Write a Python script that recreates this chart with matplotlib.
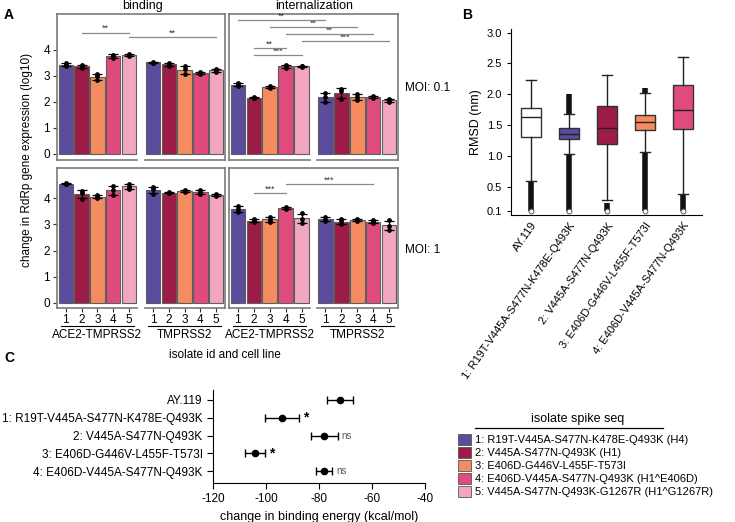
import matplotlib
matplotlib.use('Agg')
import matplotlib.pyplot as plt
import numpy as np
from matplotlib.patches import Patch
from matplotlib.lines import Line2D

plt.rcParams['font.family'] = ['Liberation Sans', 'DejaVu Sans']
plt.rcParams['axes.unicode_minus'] = False

W, H = 735, 522

# ---- panel A data: log10 change in RdRp expression, 3 replicates per isolate ----
isolates = ['1', '2', '3', '4', '5']
cell_lines = ['ACE2-TMPRSS2', 'TMPRSS2']
assays = ['binding', 'internalization']
mois = ['MOI: 0.1', 'MOI: 1']
colors = ['#5B4C9E', '#9C1C47', '#F48C5F', '#E04B7D', '#F2A6C2']

moi01_binding_ace2 = [[3.35, 3.45, 3.47], [3.28, 3.35, 3.42], [2.85, 2.97, 3.08], [3.68, 3.77, 3.80], [3.76, 3.80, 3.84]]
moi01_binding_tmp = [[3.48, 3.50, 3.54], [3.38, 3.42, 3.50], [3.05, 3.25, 3.36], [3.07, 3.12, 3.14], [3.14, 3.20, 3.26]]
moi01_intern_ace2 = [[2.60, 2.65, 2.72], [2.14, 2.16, 2.18], [2.53, 2.57, 2.61], [3.30, 3.36, 3.42], [3.34, 3.36, 3.38]]
moi01_intern_tmp = [[1.98, 2.20, 2.33], [2.12, 2.42, 2.47], [2.08, 2.20, 2.30], [2.15, 2.19, 2.23], [1.98, 2.05, 2.12]]
moi1_binding_ace2 = [[4.53, 4.55, 4.57], [3.98, 4.20, 4.27], [4.00, 4.06, 4.12], [4.12, 4.30, 4.48], [4.35, 4.45, 4.56]]
moi1_binding_tmp = [[4.18, 4.35, 4.43], [4.20, 4.22, 4.24], [4.23, 4.28, 4.33], [4.18, 4.25, 4.30], [4.10, 4.13, 4.16]]
moi1_intern_ace2 = [[3.48, 3.58, 3.71], [3.08, 3.14, 3.20], [3.10, 3.18, 3.29], [3.59, 3.62, 3.65], [3.05, 3.22, 3.42]]
moi1_intern_tmp = [[3.12, 3.18, 3.27], [3.02, 3.12, 3.19], [3.13, 3.16, 3.19], [3.05, 3.12, 3.16], [2.80, 2.93, 3.15]]

panel_a = {
    (0, 0): [moi01_binding_ace2, moi01_binding_tmp],
    (0, 1): [moi01_intern_ace2, moi01_intern_tmp],
    (1, 0): [moi1_binding_ace2, moi1_binding_tmp],
    (1, 1): [moi1_intern_ace2, moi1_intern_tmp],
}

# significance: (row, col, (cell line, isolate), (cell line, isolate), height, label)
sig_marks = [
    (0, 0, (0, 1), (0, 4), 4.65, '**'),
    (0, 0, (0, 4), (1, 4), 4.47, '**'),
    (0, 1, (0, 0), (1, 0), 5.13, '**'),
    (0, 1, (0, 2), (1, 2), 4.87, '**'),
    (0, 1, (0, 3), (1, 3), 4.60, '**'),
    (0, 1, (0, 4), (1, 4), 4.33, '***'),
    (0, 1, (0, 1), (0, 3), 4.05, '**'),
    (0, 1, (0, 1), (0, 4), 3.78, '***'),
    (1, 1, (0, 1), (0, 3), 4.19, '***'),
    (1, 1, (0, 3), (1, 3), 4.55, '***'),
]

# ---- panel B data: RMSD box stats ----
rmsd_labels = ['AY.119', '1: R19T-V445A-S477N-K478E-Q493K', '2: V445A-S477N-Q493K',
               '3: E406D-G446V-L455F-T573I', '4: E406D-V445A-S477N-Q493K']
rmsd_colors = ['white', '#5B4C9E', '#9C1C47', '#F48C5F', '#E04B7D']
rmsd_med = [1.63, 1.36, 1.46, 1.55, 1.75]
rmsd_q1 = [1.31, 1.27, 1.20, 1.42, 1.44]
rmsd_q3 = [1.78, 1.45, 1.81, 1.66, 2.15]
rmsd_whislo = [0.60, 1.03, 0.28, 1.06, 0.38]
rmsd_whishi = [2.24, 1.68, 2.32, 2.02, 2.60]
rmsd_out_lo = [(0.1, 0.60), (0.1, 1.03), (0.1, 0.24), (0.1, 1.06), (0.1, 0.38)]
rmsd_out_hi = [None, (1.68, 2.0), None, (2.02, 2.1), None]

# ---- panel C data: binding energy ----
c_labels = ['AY.119', '1: R19T-V445A-S477N-K478E-Q493K', '2: V445A-S477N-Q493K',
            '3: E406D-G446V-L455F-T573I', '4: E406D-V445A-S477N-Q493K']
c_mean = [-72, -94, -78, -104, -78]
c_err = [5, 6.5, 5, 3.8, 3]
c_sig = ['', '*', 'ns', '*', 'ns']

legend_labels = ['1: R19T-V445A-S477N-K478E-Q493K (H4)', '2: V445A-S477N-Q493K (H1)',
                 '3: E406D-G446V-L455F-T573I', '4: E406D-V445A-S477N-Q493K (H1^E406D)',
                 '5: V445A-S477N-Q493K-G1267R (H1^G1267R)']

fig = plt.figure(figsize=(W / 100, H / 100), dpi=100)


def add_ax(x0, y0, x1, y1):
    return fig.add_axes([x0 / W, 1 - y1 / H, (x1 - x0) / W, (y1 - y0) / H])


def ftext(x, y, s, **kw):
    fig.text(x / W, 1 - y / H, s, **kw)


# ---------------- panel A ----------------
frame_col = '#7a7a7a'
rows_px = [(14, 160), (168, 308)]
cols_px = [(57, 225), (229, 398)]
ylims = [(-0.23, 5.36), (-0.2, 5.16)]

for r in range(2):
    for c in range(2):
        ax = add_ax(cols_px[c][0], rows_px[r][0], cols_px[c][1], rows_px[r][1])
        all_pos = []
        for cl in range(2):
            reps = np.array(panel_a[(r, c)][cl])
            means = reps.mean(axis=1)
            sds = reps.std(axis=1, ddof=1)
            pos = np.arange(5) + cl * 5.5
            all_pos.extend(pos)
            ax.bar(pos, means, width=0.9, color=colors, edgecolor='#5e5e5e', linewidth=0.8, zorder=2)
            ax.errorbar(pos, means, yerr=sds, fmt='none', ecolor='black', elinewidth=0.9,
                        capsize=3.5, capthick=0.9, zorder=3)
            for p, rr in zip(pos, reps):
                ax.scatter([p] * len(rr), rr, s=12, color='black', zorder=4, linewidths=0)
            ax.plot([pos[0] - 0.52, pos[-1] + 0.52], [ylims[r][0]] * 2, color=frame_col,
                    lw=1.2, clip_on=False, zorder=5)
        ax.set_xlim(-0.55, 10.05)
        ax.set_ylim(*ylims[r])
        ax.spines['bottom'].set_visible(False)
        for s in ['top', 'left', 'right']:
            ax.spines[s].set_color(frame_col)
            ax.spines[s].set_linewidth(1.2)
        if c == 0:
            ax.set_yticks([0, 1, 2, 3, 4])
            ax.tick_params(axis='y', labelsize=8.5, length=3, color='#333333', pad=2)
        else:
            ax.set_yticks([])
        if r == 1:
            ax.set_xticks(all_pos)
            ax.set_xticklabels(isolates * 2)
            ax.tick_params(axis='x', labelsize=8.5, length=3, color='#333333', pad=1)
            trans = ax.get_xaxis_transform()
            for cl, name in enumerate(cell_lines):
                ctr = 2 + cl * 5.5
                ax.plot([ctr - 2.3, ctr + 2.3], [-0.125, -0.125], color='black', lw=0.8,
                        transform=trans, clip_on=False)
                ax.text(ctr, -0.195, name, transform=trans, ha='center', va='center', fontsize=8.5)
        else:
            ax.set_xticks([])
        for (rr_, cc_, a, b, yv, lab) in sig_marks:
            if rr_ == r and cc_ == c:
                x1 = a[1] + a[0] * 5.5
                x2 = b[1] + b[0] * 5.5
                ax.plot([x1, x2], [yv, yv], color='#8a8a8a', lw=0.9, zorder=5)
                ax.text((x1 + x2) / 2, yv - 0.02, lab, ha='center', va='bottom', fontsize=6.5,
                        color='#333333')

ftext(143, 9, assays[0], fontsize=9, ha='center', va='baseline')
ftext(314, 9, assays[1], fontsize=9, ha='center', va='baseline')
ftext(405, 88, mois[0], fontsize=8.5, va='center', ha='left')
ftext(405, 250, mois[1], fontsize=8.5, va='center', ha='left')
ftext(27, 160, 'change in RdRp gene expression (log10)', rotation=90, fontsize=8.5,
      ha='center', va='center')
ftext(225, 355, 'isolate id and cell line', fontsize=8.5, ha='center', va='center')
ftext(4, 15, 'A', fontsize=10, fontweight='bold', va='center')
ftext(462, 15, 'B', fontsize=10, fontweight='bold', va='center')
ftext(4, 358, 'C', fontsize=10, fontweight='bold', va='center')

# ---------------- panel B ----------------
axb = add_ax(511, 29, 702, 215)
stats = []
for i in range(len(rmsd_labels)):
    stats.append(dict(med=rmsd_med[i], q1=rmsd_q1[i], q3=rmsd_q3[i],
                      whislo=rmsd_whislo[i], whishi=rmsd_whishi[i], fliers=[]))
bp = axb.bxp(stats, positions=range(5), widths=0.52, patch_artist=True, showfliers=False,
             boxprops=dict(edgecolor='#333333', linewidth=1),
             medianprops=dict(color='#222222', linewidth=1),
             whiskerprops=dict(color='#222222', linewidth=1),
             capprops=dict(color='#222222', linewidth=1), capwidths=0.25)
for patch, col in zip(bp['boxes'], rmsd_colors):
    patch.set_facecolor(col)
for i in range(5):
    lo = rmsd_out_lo[i]
    axb.vlines(i, lo[0], lo[1], color='#111111', lw=4, zorder=1)
    axb.plot(i, lo[0], 'o', ms=3.5, mfc='white', mec='#444444', mew=0.6, zorder=3)
    if rmsd_out_hi[i] is not None:
        hi = rmsd_out_hi[i]
        axb.vlines(i, hi[0], hi[1], color='#111111', lw=4, zorder=1)
axb.set_xlim(-0.52, 4.5)
axb.set_ylim(0.04, 3.06)
axb.set_yticks([0.1, 0.5, 1.0, 1.5, 2.0, 2.5, 3.0])
axb.set_yticklabels(['0.1', '0.5', '1.0', '1.5', '2.0', '2.5', '3.0'])
axb.set_xticks(range(5))
axb.set_xticklabels(rmsd_labels, rotation=55, ha='right', rotation_mode='anchor')
axb.tick_params(axis='both', labelsize=8, length=3, width=0.8)
axb.tick_params(axis='x', length=0, pad=4)
axb.spines['top'].set_visible(False)
axb.spines['right'].set_visible(False)
axb.set_ylabel('RMSD (nm)', fontsize=9, labelpad=3)

# ---------------- panel C ----------------
axc = add_ax(213, 390, 425, 483)
axc.errorbar(c_mean, range(5), xerr=c_err, fmt='o', color='black', ms=4.5, capsize=3,
             elinewidth=1, capthick=1)
for i, s in enumerate(c_sig):
    if s == '*':
        axc.text(c_mean[i] + c_err[i] + 1.5, i, s, fontsize=10, fontweight='bold', va='center')
    elif s:
        axc.text(c_mean[i] + c_err[i] + 1.5, i, s, fontsize=7, color='#555555', va='center')
axc.set_xlim(-120, -40)
axc.set_ylim(4.66, -0.56)
axc.set_yticks(range(5))
axc.set_yticklabels(c_labels)
axc.set_xticks([-120, -100, -80, -60, -40])
axc.tick_params(axis='both', labelsize=8.5, length=4, width=0.8)
axc.spines['top'].set_visible(False)
axc.spines['right'].set_visible(False)
axc.set_xlabel('change in binding energy (kcal/mol)', fontsize=9, labelpad=4)

# ---------------- legend ----------------
handles = [Patch(facecolor=c, edgecolor='#555555', linewidth=0.6) for c in colors]
fig.legend(handles, legend_labels, loc='upper left', bbox_to_anchor=(458 / W, 1 - 434 / H),
           frameon=False, fontsize=8, handlelength=1.15, handleheight=1.15, labelspacing=0.15,
           handletextpad=0.4, borderpad=0, borderaxespad=0)
ftext(578, 419, 'isolate spike seq', fontsize=9, ha='center', va='center')
fig.add_artist(Line2D([475 / W, 663 / W], [1 - 428 / H] * 2, color='black', lw=0.9))

fig.savefig('out.png', dpi=100)
